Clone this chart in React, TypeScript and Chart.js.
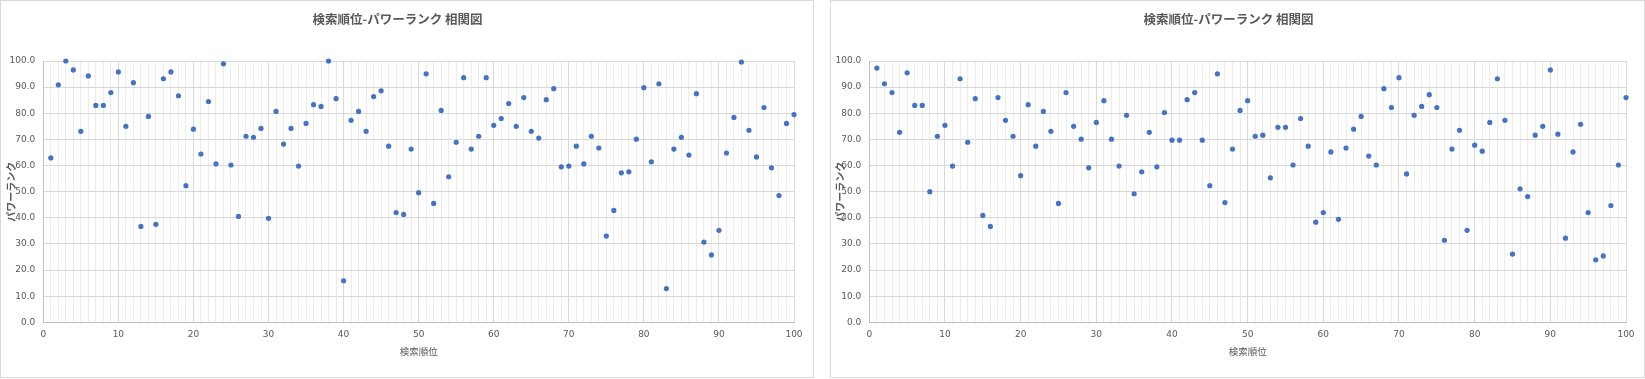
import React, { useEffect, useRef } from "react";
import { Chart, registerables } from "chart.js";

Chart.register(...registerables);

const TITLE = "検索順位-パワーランク 相関図";
const X_TITLE = "検索順位";
const Y_TITLE = "パワーランク";

const ranks: number[] = Array.from({ length: 100 }, (_, i) => i + 1);

const leftValues: number[] = [
  62.9, 90.9, 100.0, 96.6, 73.1, 94.3, 83.0, 83.0, 87.9, 95.8,
  75.0, 91.7, 36.7, 78.8, 37.5, 93.2, 95.8, 86.7, 52.3, 73.9,
  64.4, 84.5, 60.6, 98.9, 60.2, 40.5, 71.2, 70.8, 74.2, 39.8,
  80.7, 68.2, 74.2, 59.8, 76.1, 83.3, 82.6, 100.0, 85.6, 15.9,
  77.3, 80.7, 73.1, 86.4, 88.6, 67.4, 42.0, 41.3, 66.3, 49.6,
  95.1, 45.5, 81.1, 55.7, 68.9, 93.6, 66.3, 71.2, 93.6, 75.4,
  78.0, 83.7, 75.0, 86.0, 73.1, 70.5, 85.2, 89.4, 59.5, 59.8,
  67.4, 60.6, 71.2, 66.7, 33.0, 42.8, 57.2, 57.6, 70.1, 89.8,
  61.4, 91.3, 12.9, 66.3, 70.8, 64.0, 87.5, 30.7, 25.8, 35.2,
  64.8, 78.4, 99.6, 73.5, 63.3, 82.2, 59.1, 48.5, 76.1, 79.5,
];

const rightValues: number[] = [
  97.3, 91.3, 87.9, 72.7, 95.5, 83.0, 83.0, 50.0, 71.2, 75.4,
  59.8, 93.2, 68.9, 85.6, 40.9, 36.7, 86.0, 77.3, 71.2, 56.1,
  83.3, 67.4, 80.7, 73.1, 45.5, 87.9, 75.0, 70.1, 59.1, 76.5,
  84.8, 70.1, 59.8, 79.2, 49.2, 57.6, 72.7, 59.5, 80.3, 69.7,
  69.7, 85.2, 87.9, 69.7, 52.3, 95.1, 45.8, 66.3, 81.1, 84.8,
  71.2, 71.6, 55.3, 74.6, 74.6, 60.2, 78.0, 67.4, 38.3, 42.0,
  65.2, 39.4, 66.7, 73.9, 78.8, 63.6, 60.2, 89.4, 82.2, 93.6,
  56.8, 79.2, 82.6, 87.1, 82.2, 31.4, 66.3, 73.5, 35.2, 67.8,
  65.5, 76.5, 93.2, 77.3, 26.1, 51.1, 48.1, 71.6, 75.0, 96.6,
  72.0, 32.2, 65.2, 75.8, 42.0, 23.9, 25.4, 44.7, 60.2, 86.0,
];

const xTickValues: number[] = [0, ...ranks];

const TEXT_COLOR = "#595959";
const FONT_NUM = "'DejaVu Sans', 'Noto Sans CJK JP', sans-serif";
const FONT_JP = "'Noto Sans CJK JP', 'DejaVu Sans', sans-serif";

type PanelProps = {
  values: number[];
  left: number;
  width: number;
  yAxisWidth: number;
  yTitlePad: number;
  rightPad: number;
};

function ScatterPanel({ values, left, width, yAxisWidth, yTitlePad, rightPad }: PanelProps) {
  const ref = useRef<HTMLCanvasElement | null>(null);
  useEffect(() => {
    if (!ref.current) return;
    const chart = new Chart(ref.current, {
      type: "scatter",
      data: {
        datasets: [
          {
            data: ranks.map((r, i) => ({ x: r, y: values[i] })),
            backgroundColor: "#4472C4",
            borderColor: "#4472C4",
            pointRadius: 2.6,
            pointHoverRadius: 2.6,
            borderWidth: 0,
            clip: false,
          } as any,
        ],
      },
      options: {
        animation: false,
        responsive: false,
        maintainAspectRatio: false,
        layout: { padding: { left: 0, top: 0, right: rightPad, bottom: 0 } },
        plugins: {
          legend: { display: false },
          tooltip: { enabled: false },
          title: {
            display: true,
            text: TITLE,
            color: TEXT_COLOR,
            font: { family: FONT_JP, size: 12.5, weight: "bold", lineHeight: 1.2 },
            padding: { top: 11, bottom: 34 },
          },
        },
        scales: {
          x: {
            type: "linear",
            min: 0,
            max: 100,
            afterBuildTicks: (scale: any) => {
              scale.ticks = xTickValues.map((v) => ({ value: v }));
            },
            ticks: {
              autoSkip: false,
              maxRotation: 0,
              padding: 7,
              color: TEXT_COLOR,
              font: { family: FONT_NUM, size: 9 },
              callback: (v: any) => (Number(v) % 10 === 0 ? String(v) : ""),
            },
            grid: {
              drawTicks: false,
              color: (ctx: any) =>
                ctx.tick && ctx.tick.value % 10 === 0 ? "#d9d9d9" : "#ececec",
              lineWidth: 1,
            },
            border: { color: "#bfbfbf", width: 1 },
            title: {
              display: true,
              text: X_TITLE,
              color: TEXT_COLOR,
              font: { family: FONT_JP, size: 9.5, lineHeight: 1.2 },
              padding: { top: 0, bottom: 20 },
            },
            afterFit: (scale: any) => {
              scale.height = 54.7;
            },
          },
          y: {
            type: "linear",
            min: 0,
            max: 100,
            ticks: {
              stepSize: 10,
              padding: 8,
              color: TEXT_COLOR,
              font: { family: FONT_NUM, size: 9 },
              callback: (v: any) => Number(v).toFixed(1),
            },
            grid: {
              drawTicks: false,
              color: "#d9d9d9",
              lineWidth: 1,
            },
            border: { color: "#bfbfbf", width: 1 },
            title: {
              display: true,
              text: Y_TITLE,
              color: TEXT_COLOR,
              font: { family: FONT_JP, size: 10, weight: "bold", lineHeight: 1.2 },
              padding: { top: yTitlePad, bottom: 0 },
            },
            afterFit: (scale: any) => {
              scale.width = yAxisWidth;
            },
          },
        },
      },
    });
    return () => chart.destroy();
  }, [values, yAxisWidth, yTitlePad, rightPad]);

  return (
    <div
      style={{
        position: "absolute",
        left: left,
        top: 0,
        width: width,
        height: 378,
        boxSizing: "border-box",
        border: "1px solid #d9d9d9",
        background: "#ffffff",
      }}
    >
      <canvas
        ref={ref}
        width={width - 2}
        height={376}
        style={{ display: "block", width: width - 2, height: 376 }}
      />
    </div>
  );
}

export default function App() {
  useEffect(() => {
    document.body.style.margin = "0";
  }, []);
  return (
    <div style={{ position: "relative", width: 1645, height: 379, background: "#ffffff" }}>
      <ScatterPanel values={leftValues} left={0} width={814} yAxisWidth={42.3} yTitlePad={4} rightPad={19} />
      <ScatterPanel values={rightValues} left={830} width={815} yAxisWidth={38.3} yTitlePad={3} rightPad={18} />
    </div>
  );
}
